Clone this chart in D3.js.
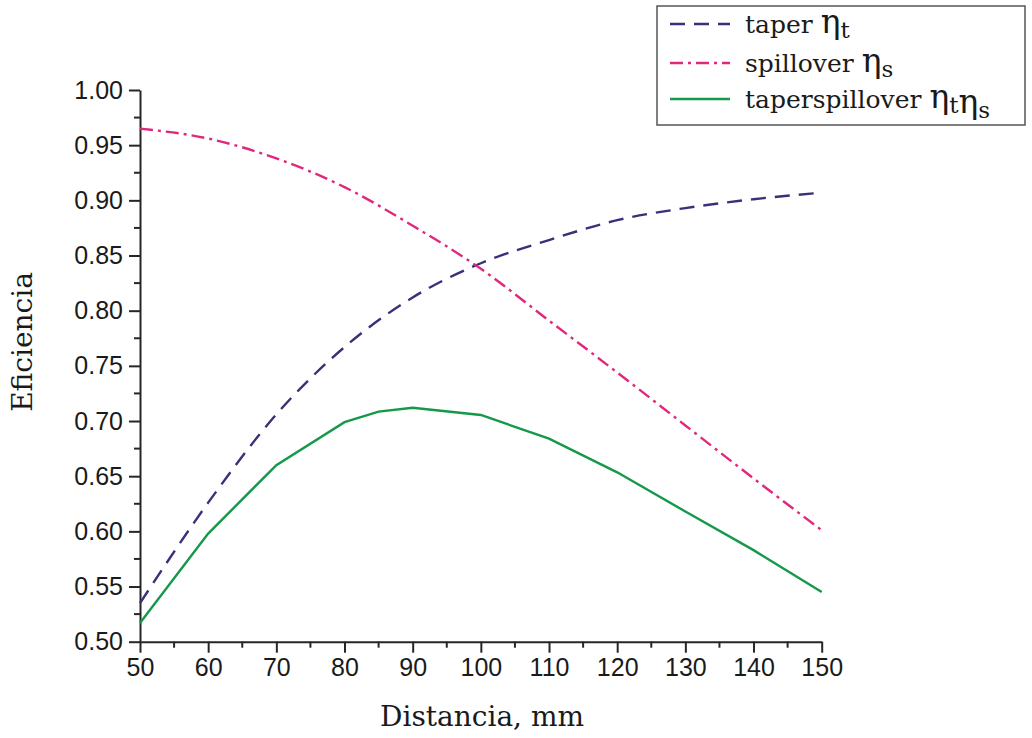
<!DOCTYPE html>
<html><head><meta charset="utf-8">
<script src="https://cdn.jsdelivr.net/npm/d3@7"></script>
<style>body{margin:0;background:#fff}svg{display:block}</style>
</head><body>
<svg id="chart" width="1032" height="738"></svg>
<script>
const distTaper = [50, 60, 70, 80, 90, 100, 110, 120, 130, 140, 150];
const taperVals = [0.535, 0.626, 0.706, 0.767, 0.812, 0.843, 0.864, 0.882, 0.893, 0.901, 0.907];
const distSpill = [50, 60, 70, 80, 90, 100, 110, 120, 130, 140, 150];
const spillVals = [0.965, 0.956, 0.938, 0.912, 0.877, 0.838, 0.791, 0.744, 0.696, 0.648, 0.601];
const distProd = [50, 60, 70, 80, 85, 90, 100, 110, 120, 130, 140, 150];
const prodVals = [0.517, 0.598, 0.660, 0.699, 0.7085, 0.712, 0.7055, 0.684, 0.6535, 0.618, 0.583, 0.545];
const xTicks = [50, 60, 70, 80, 90, 100, 110, 120, 130, 140, 150];
const yTicks = [0.50, 0.55, 0.60, 0.65, 0.70, 0.75, 0.80, 0.85, 0.90, 0.95, 1.00];
const legendLabels = ["taper", "spillover", "taperspillover"];

const svg = d3.select("#chart");
const x = d3.scaleLinear().domain([50, 150]).range([140, 821.7]);
const y = d3.scaleLinear().domain([0.5, 1.0]).range([641.7, 90]);

const axisColor = "#262626";
const tickFont = "'Liberation Sans', Arial, sans-serif";
const serif = "'DejaVu Serif', serif";

// minor ticks
const xMinor = d3.range(55, 150, 10);
const yMinor = d3.range(0.525, 1.0, 0.05);
svg.append("g").selectAll("line").data(xMinor).join("line")
  .attr("x1", d => x(d)).attr("x2", d => x(d)).attr("y1", y(0.5)).attr("y2", y(0.5) + 6)
  .attr("stroke", axisColor).attr("stroke-width", 2);
svg.append("g").selectAll("line").data(yMinor).join("line")
  .attr("y1", d => y(d)).attr("y2", d => y(d)).attr("x1", x(50)).attr("x2", x(50) - 6)
  .attr("stroke", axisColor).attr("stroke-width", 2);

const xAxis = svg.append("g").attr("transform", `translate(0,${y(0.5)})`)
  .call(d3.axisBottom(x).tickValues(xTicks).tickFormat(d3.format("d")).tickSize(11).tickPadding(6).tickSizeOuter(0));
const yAxis = svg.append("g").attr("transform", `translate(${x(50)},0)`)
  .call(d3.axisLeft(y).tickValues(yTicks).tickFormat(d3.format(".2f")).tickSize(11).tickPadding(6).tickSizeOuter(0));
[xAxis, yAxis].forEach(g => {
  g.select(".domain").attr("stroke", axisColor).attr("stroke-width", 2);
  g.selectAll(".tick line").attr("stroke", axisColor).attr("stroke-width", 2);
  g.selectAll(".tick text").attr("fill", "#1a1a1a").style("font-family", tickFont).style("font-size", "25px");
});

svg.append("text").attr("x", 482).attr("y", 726).attr("text-anchor", "middle")
  .style("font-family", serif).style("font-size", "28px").attr("fill", "#1a1a1a").text("Distancia, mm");
svg.append("text").attr("transform", "translate(32,342) rotate(-90)").attr("text-anchor", "middle")
  .style("font-family", serif).style("font-size", "28px").attr("fill", "#1a1a1a").text("Eficiencia");

const series = [
  {xs: distTaper, ys: taperVals, color: "#3a2f78", dash: "15,9", curve: d3.curveMonotoneX},
  {xs: distSpill, ys: spillVals, color: "#e0287c", dash: "13,5,3,5", curve: d3.curveMonotoneX},
  {xs: distProd, ys: prodVals, color: "#14994a", dash: null, curve: d3.curveLinear}
];
series.forEach(s => {
  const line = d3.line().x(d => x(d[0])).y(d => y(d[1])).curve(s.curve);
  svg.append("path").datum(s.xs.map((v, i) => [v, s.ys[i]]))
    .attr("d", line).attr("fill", "none").attr("stroke", s.color).attr("stroke-width", 2.4)
    .attr("stroke-dasharray", s.dash);
});

// legend
const lg = svg.append("g");
lg.append("rect").attr("x", 657).attr("y", 6).attr("width", 368).attr("height", 119)
  .attr("fill", "#fff").attr("stroke", "#555").attr("stroke-width", 1.5);
const rowY = [24, 63, 99];
const subs = [["t"], ["s"], ["t", "s"]];
series.forEach((s, i) => {
  lg.append("line").attr("x1", 670).attr("x2", 730).attr("y1", rowY[i]).attr("y2", rowY[i])
    .attr("stroke", s.color).attr("stroke-width", 2.4).attr("stroke-dasharray", s.dash);
  const t = lg.append("text").attr("x", 745).attr("y", rowY[i] + 9)
    .style("font-family", serif).style("font-size", "25px").attr("fill", "#1a1a1a");
  t.append("tspan").text(legendLabels[i] + " ");
  subs[i].forEach(sb => {
    t.append("tspan").style("font-size", "33px").text("η");
    t.append("tspan").attr("dy", 5).style("font-size", "23px").text(sb);
    t.append("tspan").attr("dy", -5).text("");
  });
});
</script>
</body></html>
